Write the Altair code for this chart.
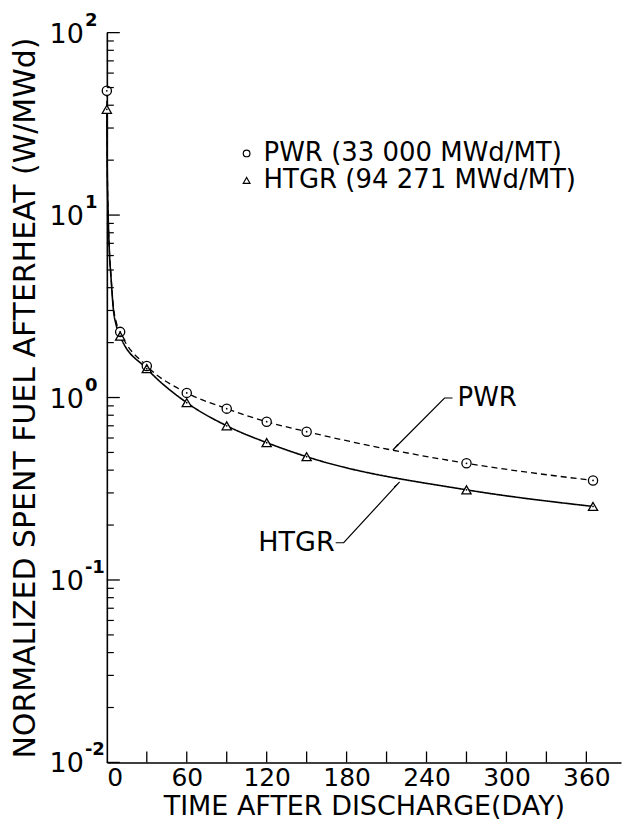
import altair as alt
import pandas as pd

# ---------------- data ----------------
curve_days = [0, 0.3, 1, 2, 3, 5, 7, 10, 30, 60, 90, 120, 150, 270, 365]
pwr_curve_vals = [48, 20, 10, 6.2, 4.8, 3.1, 2.6, 2.29, 1.49, 1.06, 0.869, 0.737, 0.65, 0.436, 0.351]
htgr_curve_vals = [38, 18, 10, 6.1, 4.7, 3.0, 2.5, 2.17, 1.44, 0.937, 0.70, 0.566, 0.474, 0.312, 0.253]

marker_days = [0, 10, 30, 60, 90, 120, 150, 270, 365]
pwr_marker_vals = [48, 2.29, 1.49, 1.06, 0.869, 0.737, 0.65, 0.436, 0.351]
htgr_marker_vals = [38, 2.17, 1.44, 0.937, 0.70, 0.566, 0.474, 0.312, 0.253]

series_names = ["PWR", "HTGR"]
legend_labels = ["PWR (33 000 MWd/MT)", "HTGR (94 271 MWd/MT)"]

x_label_values = [0, 60, 120, 180, 240, 300, 360]
x_tick_values = [30, 60, 90, 120, 150, 180, 210, 240, 270, 300, 330, 360]
y_decades = [100, 10, 1, 0.1, 0.01]
y_exponents = ["2", "1", "0", "-1", "-2"]
y_minor_values = [k * d for d in [0.01, 0.1, 1, 10] for k in range(2, 10)]

# annotation leaders (in data units: day, value)
pwr_leader_days = [259.5, 253.5, 214.7]
pwr_leader_vals = [0.994, 0.994, 0.516]
htgr_leader_days = [171.8, 177.8, 219.8]
htgr_leader_vals = [0.16, 0.16, 0.345]
arrow_days = [217.5, 216.8]
arrow_vals = [0.543, 0.328]
arrow_angles = [225, 45]
label_days = [263.3, 171.0]
label_vals = [0.994, 0.16]

# ---------------- tables ----------------
curves = pd.DataFrame(
    [{"series": "PWR", "day": d, "value": v} for d, v in zip(curve_days, pwr_curve_vals)]
    + [{"series": "HTGR", "day": d, "value": v} for d, v in zip(curve_days, htgr_curve_vals)]
)
pwr_markers = pd.DataFrame({"series": legend_labels[0], "day": marker_days, "value": pwr_marker_vals})
htgr_markers = pd.DataFrame({"series": legend_labels[1], "day": marker_days, "value": htgr_marker_vals})
markers = pd.concat([pwr_markers, htgr_markers], ignore_index=True)
leaders = pd.DataFrame(
    [{"g": "PWR", "o": i, "day": d, "value": v} for i, (d, v) in enumerate(zip(pwr_leader_days, pwr_leader_vals))]
    + [{"g": "HTGR", "o": i, "day": d, "value": v} for i, (d, v) in enumerate(zip(htgr_leader_days, htgr_leader_vals))]
)
arrows = pd.DataFrame({"day": arrow_days, "value": arrow_vals, "angle": arrow_angles})
labels_df = pd.DataFrame({"day": label_days, "value": label_vals, "text": series_names,
                          "align": ["left", "right"]})
ylab = pd.DataFrame({"value": y_decades, "base": ["10"] * 5, "exp": y_exponents})
xticks = pd.DataFrame({"day": x_tick_values})
ymaj = pd.DataFrame({"value": y_decades})
ymin = pd.DataFrame({"value": y_minor_values})

W, H = 515, 731
FONT = "DejaVu Sans"

xscale = alt.Scale(domain=[0, 386], nice=False, zero=False)
yscale = alt.Scale(type="log", domain=[0.01, 100], nice=False)
X = alt.X("day:Q", scale=xscale)
Y = alt.Y("value:Q", scale=yscale)

x_enc = alt.X("day:Q", scale=xscale, axis=alt.Axis(
    values=x_label_values, ticks=False, grid=False, labelFontSize=25,
    labelPadding=3, labelColor="black", domainColor="black", domainWidth=1.6,
    title="TIME AFTER DISCHARGE(DAY)", titleFontSize=27, titleFontWeight="normal",
    titlePadding=3, titleColor="black"))
y_enc = alt.Y("value:Q", scale=yscale, axis=alt.Axis(
    labels=False, ticks=False, grid=False, domainColor="black", domainWidth=1.6,
    title="NORMALIZED SPENT FUEL AFTERHEAT (W/MWd)", titleFontSize=30,
    titleFontWeight="normal", titlePadding=66, titleColor="black"))

base_axes = alt.Chart(curves).mark_line(opacity=0).encode(x=x_enc, y=y_enc)

lines = alt.Chart(curves).mark_line(color="black", interpolate="monotone").encode(
    x=X, y=Y,
    detail="series:N",
    strokeDash=alt.StrokeDash("series:N", scale=alt.Scale(domain=series_names, range=[[6, 4], [1, 0]]), legend=None),
    strokeWidth=alt.StrokeWidth("series:N", scale=alt.Scale(domain=series_names, range=[1.3, 1.6]), legend=None),
)

# white backgrounds so the lines do not show through the hollow markers
bg_pwr = alt.Chart(pwr_markers).mark_point(shape="circle", filled=True, color="white", size=85, opacity=1).encode(x=X, y=Y)
bg_htgr = alt.Chart(htgr_markers).mark_point(shape="triangle-up", filled=True, color="white", size=85, opacity=1).encode(x=X, y=Y)

pts = alt.Chart(markers).mark_point(filled=False, color="black", strokeWidth=1.3,
                                    opacity=1, size=85).encode(
    x=X, y=Y,
    shape=alt.Shape("series:N", scale=alt.Scale(domain=legend_labels, range=["circle", "triangle-up"]),
                    legend=alt.Legend(title=None, orient="none", legendX=127, legendY=108,
                                      labelFontSize=26, labelColor="black", labelFont=FONT,
                                      labelLimit=500,
                                      symbolStrokeColor="black", symbolStrokeWidth=1.2,
                                      symbolSize=45, labelOffset=4,
                                      rowPadding=1, padding=0)),
)
dots = alt.Chart(markers).mark_point(filled=True, color="black", size=3, opacity=1).encode(x=X, y=Y)

leader_lines = alt.Chart(leaders).mark_line(color="black", strokeWidth=1.2).encode(
    x=X, y=Y, detail="g:N", order="o:Q")
arrow_heads = alt.Chart(arrows).mark_point(shape="wedge", filled=True, color="black", size=45, opacity=1).encode(
    x=X, y=Y, angle=alt.Angle("angle:Q", scale=None))
ann_text_l = alt.Chart(labels_df[labels_df["align"] == "left"]).mark_text(
    align="left", baseline="middle", fontSize=26, font=FONT, color="black").encode(
    x=X, y=Y, text="text:N")
ann_text_r = alt.Chart(labels_df[labels_df["align"] == "right"]).mark_text(
    align="right", baseline="middle", fontSize=27, font=FONT, color="black").encode(
    x=X, y=Y, text="text:N")

xt = alt.Chart(xticks).mark_rule(color="black", strokeWidth=1.3).encode(
    x=X, y=alt.value(H), y2=alt.value(H - 11))
ymj = alt.Chart(ymaj).mark_rule(color="black", strokeWidth=1.3).encode(
    y=Y, x=alt.value(0), x2=alt.value(13))
ymn = alt.Chart(ymin).mark_rule(color="black", strokeWidth=1.2).encode(
    y=Y, x=alt.value(0), x2=alt.value(7))

ylab_base = alt.Chart(ylab).mark_text(align="right", baseline="middle", fontSize=27, font=FONT,
                                      color="black", dy=2).encode(
    y=Y, x=alt.value(-23), text="base:N")
ylab_exp = alt.Chart(ylab).mark_text(align="left", baseline="middle", fontSize=18, font=FONT,
                                     color="black", dy=-12, fontWeight="bold").encode(
    y=Y, x=alt.value(-22), text="exp:N")

chart = alt.layer(
    base_axes, lines, leader_lines, arrow_heads, bg_pwr, bg_htgr, pts, dots,
    ann_text_l, ann_text_r, xt, ymj, ymn, ylab_base, ylab_exp,
).properties(
    width=W, height=H,
    autosize=alt.AutoSizeParams(type="none"),
    padding={"left": 99, "top": 24, "right": 2, "bottom": 58},
).configure(font=FONT).configure_view(stroke=None)

chart.save("out.html", embed_options={"renderer": "svg", "actions": False})
